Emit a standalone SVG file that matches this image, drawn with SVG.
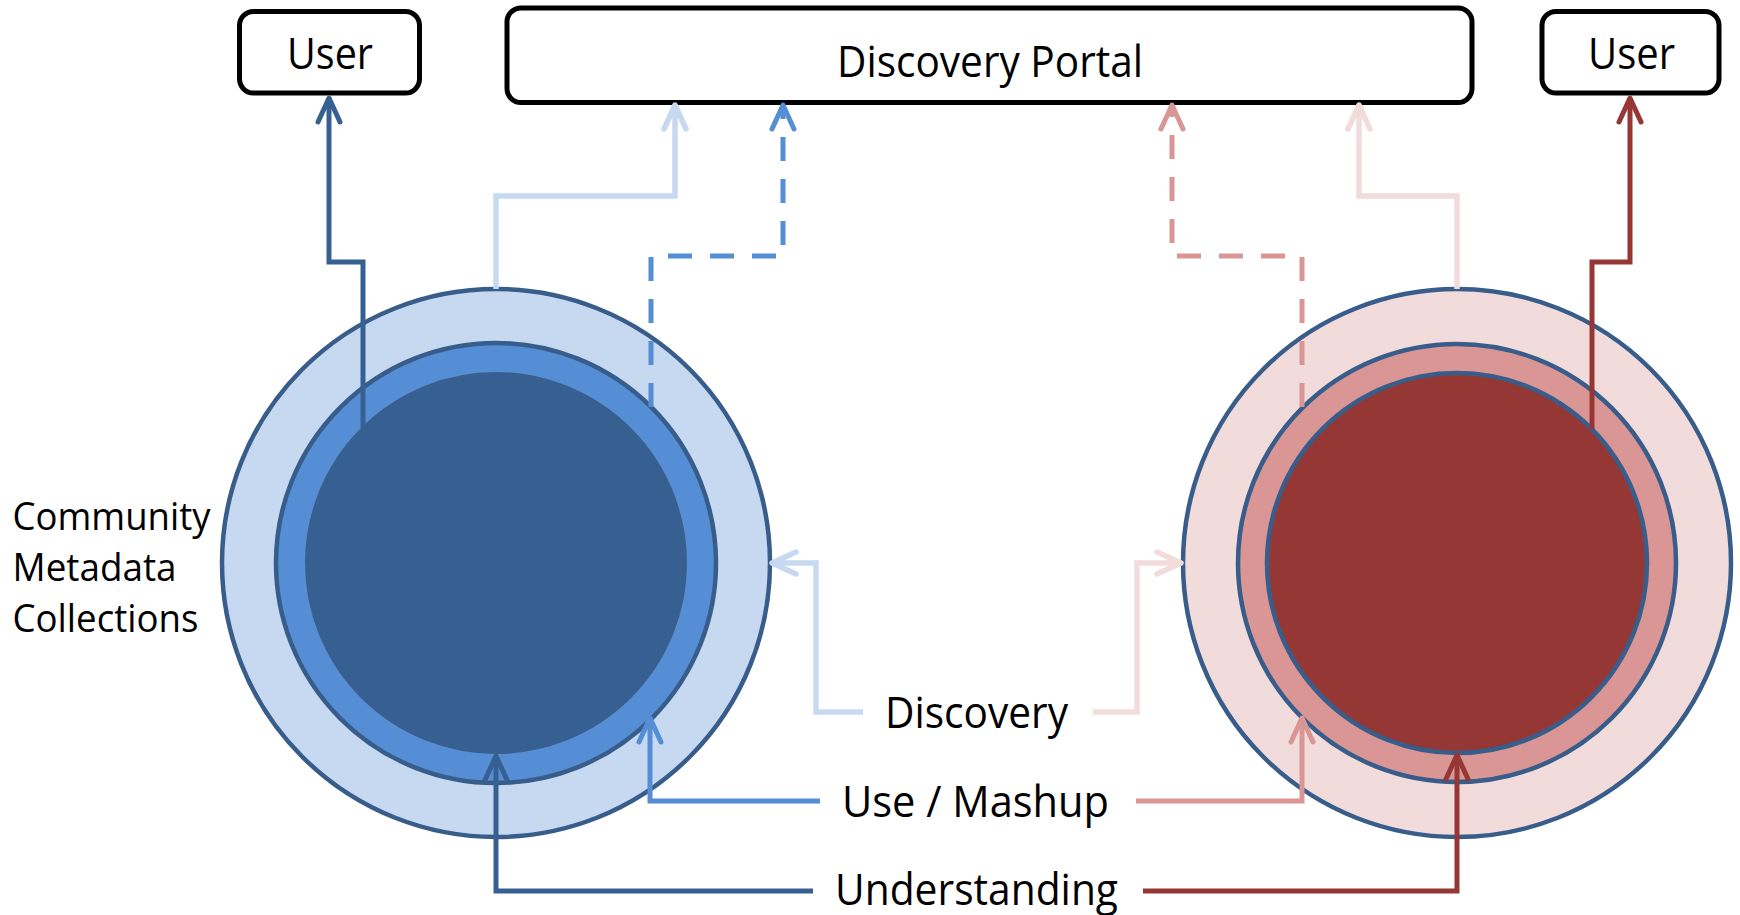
<svg xmlns="http://www.w3.org/2000/svg" width="1740" height="915" viewBox="0 0 1740 915">
<style>
  .box { fill: #ffffff; stroke: #000000; stroke-width: 5; }
  .txt { font-family: "Open Sans", "Liberation Sans", sans-serif; fill: #000000; }
  .big { font-size: 44px; }
  .mid { font-size: 39px; }
  .ring { stroke: #385d8a; stroke-width: 4.5; }
  .conn { fill: none; stroke-width: 5; stroke-linejoin: miter; }
  .dash { stroke-dasharray: 24 18; }
  .c-dark { stroke: #376092; }
  .c-light { stroke: #c6d9f1; stroke-width: 5.5; }
  .c-med { stroke: #558ed5; }
  .c-pink { stroke: #d99694; }
  .c-lpink { stroke: #f2dcdb; stroke-width: 5.5; }
  .c-red { stroke: #953735; }
</style>
<defs>
  <marker id="a-dark" markerUnits="userSpaceOnUse" viewBox="-30 -15 34 30" refX="0" refY="0" markerWidth="34" markerHeight="30" orient="auto" overflow="visible">
    <path d="M-24 -11 L0 0 L-24 11" fill="none" stroke="#376092" stroke-width="5" stroke-linecap="round" stroke-linejoin="round"/>
  </marker>
  <marker id="a-light" markerUnits="userSpaceOnUse" viewBox="-30 -15 34 30" refX="0" refY="0" markerWidth="34" markerHeight="30" orient="auto" overflow="visible">
    <path d="M-24 -11 L0 0 L-24 11" fill="none" stroke="#c6d9f1" stroke-width="5.5" stroke-linecap="round" stroke-linejoin="round"/>
  </marker>
  <marker id="a-med" markerUnits="userSpaceOnUse" viewBox="-30 -15 34 30" refX="0" refY="0" markerWidth="34" markerHeight="30" orient="auto" overflow="visible">
    <path d="M-24 -11 L0 0 L-24 11" fill="none" stroke="#558ed5" stroke-width="5" stroke-linecap="round" stroke-linejoin="round"/>
  </marker>
  <marker id="a-pink" markerUnits="userSpaceOnUse" viewBox="-30 -15 34 30" refX="0" refY="0" markerWidth="34" markerHeight="30" orient="auto" overflow="visible">
    <path d="M-24 -11 L0 0 L-24 11" fill="none" stroke="#d99694" stroke-width="5" stroke-linecap="round" stroke-linejoin="round"/>
  </marker>
  <marker id="a-lpink" markerUnits="userSpaceOnUse" viewBox="-30 -15 34 30" refX="0" refY="0" markerWidth="34" markerHeight="30" orient="auto" overflow="visible">
    <path d="M-24 -11 L0 0 L-24 11" fill="none" stroke="#f2dcdb" stroke-width="5.5" stroke-linecap="round" stroke-linejoin="round"/>
  </marker>
  <marker id="a-red" markerUnits="userSpaceOnUse" viewBox="-30 -15 34 30" refX="0" refY="0" markerWidth="34" markerHeight="30" orient="auto" overflow="visible">
    <path d="M-24 -11 L0 0 L-24 11" fill="none" stroke="#953735" stroke-width="5" stroke-linecap="round" stroke-linejoin="round"/>
  </marker>
</defs>
<rect width="1740" height="915" fill="#ffffff"/>

<g id="collection-left">
  <circle cx="496" cy="563" r="274" fill="#c6d9f1" class="ring"/>
  <circle cx="496" cy="563" r="220" fill="#558ed5" class="ring"/>
  <circle cx="496" cy="563" r="190" fill="#376092" stroke="#3a5f8e" stroke-width="2"/>
</g>
<g id="collection-right">
  <circle cx="1457" cy="563" r="274" fill="#f2dcdb" class="ring"/>
  <circle cx="1457" cy="563" r="219" fill="#d99694" class="ring"/>
  <circle cx="1457" cy="563" r="190" fill="#953735" class="ring"/>
</g>

<g id="user-left">
  <rect class="box" x="239.5" y="11.5" width="180" height="81.5" rx="14"/>
  <text class="txt big" x="287" y="69" textLength="86" lengthAdjust="spacingAndGlyphs">User</text>
</g>
<g id="discovery-portal">
  <rect class="box" x="507" y="8" width="965" height="94.5" rx="14"/>
  <text class="txt big" x="837" y="77" textLength="306" lengthAdjust="spacingAndGlyphs">Discovery Portal</text>
</g>
<g id="user-right">
  <rect class="box" x="1542" y="11.5" width="177" height="81.5" rx="14"/>
  <text class="txt big" x="1588" y="69" textLength="87" lengthAdjust="spacingAndGlyphs">User</text>
</g>

<g id="label-community">
  <text class="txt mid" x="12.5" y="530" textLength="198" lengthAdjust="spacingAndGlyphs">Community</text>
  <text class="txt mid" x="12.5" y="581" textLength="164" lengthAdjust="spacingAndGlyphs">Metadata</text>
  <text class="txt mid" x="12.5" y="632" textLength="186" lengthAdjust="spacingAndGlyphs">Collections</text>
</g>
<g id="label-discovery">
  <text class="txt big" x="885" y="728" textLength="183" lengthAdjust="spacingAndGlyphs">Discovery</text>
</g>
<g id="label-use">
  <text class="txt big" x="842" y="817" textLength="267" lengthAdjust="spacingAndGlyphs">Use / Mashup</text>
</g>
<g id="label-understanding">
  <text class="txt big" x="835" y="905" textLength="283" lengthAdjust="spacingAndGlyphs">Understanding</text>
</g>

<g id="connectors">
  <path class="conn c-dark" d="M363 428 V262 H329 V98" marker-end="url(#a-dark)"/>
  <path class="conn c-light" d="M496 289 V196 H675 V105" marker-end="url(#a-light)"/>
  <path class="conn c-med dash" d="M651 407 V256 H783 V105" marker-end="url(#a-med)"/>
  <path class="conn c-pink dash" d="M1302 407 V256 H1172 V105" marker-end="url(#a-pink)"/>
  <path class="conn c-lpink" d="M1457 289 V196 H1359 V105" marker-end="url(#a-lpink)"/>
  <path class="conn c-red" d="M1592 429 V262 H1630 V98" marker-end="url(#a-red)"/>
  <path class="conn c-light" d="M863 712 H816 V563 H772" marker-end="url(#a-light)"/>
  <path class="conn c-lpink" d="M1093 712 H1137 V563 H1181" marker-end="url(#a-lpink)"/>
  <path class="conn c-med" d="M820 801 H650 V718" marker-end="url(#a-med)"/>
  <path class="conn c-pink" d="M1136 801 H1302 V718" marker-end="url(#a-pink)"/>
  <path class="conn c-dark" d="M813 891 H496 V756" marker-end="url(#a-dark)"/>
  <path class="conn c-red" d="M1143 891 H1457 V755" marker-end="url(#a-red)"/>
</g>
</svg>
